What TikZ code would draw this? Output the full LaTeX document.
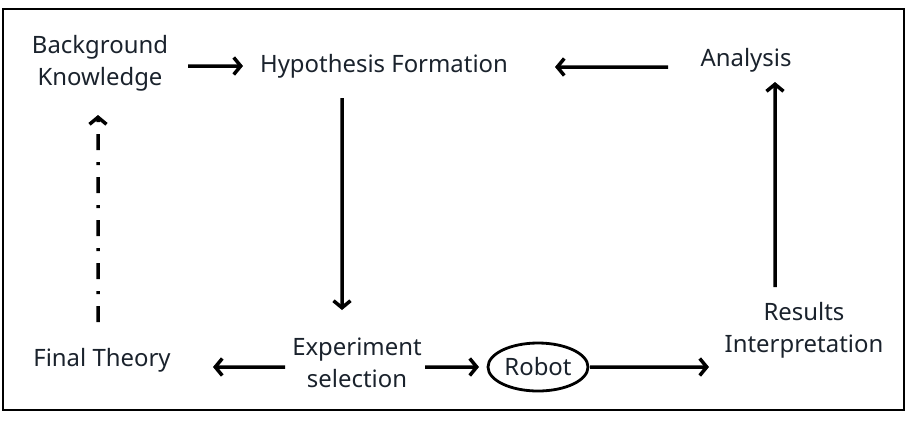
\documentclass[tikz,border=0pt]{standalone}
\usepackage{fontspec}
\setmainfont{Noto Sans}
\usetikzlibrary{arrows.meta,shapes.geometric}
\definecolor{txt}{HTML}{1A222C}
\begin{document}
\begin{tikzpicture}[x=1bp,y=-1bp,
  lbl/.style={font=\fontsize{24}{32}\selectfont, text=txt, align=center, inner sep=0},
  arr/.style={line width=3.5bp, -{Straight Barb[length=7bp,width=17bp,line width=3.5bp]}},
  dashdot/.style={arr, dash pattern=on 16bp off 12bp on 3bp off 12bp},
  oval/.style={lbl, draw, ellipse, line width=2.8bp, minimum width=100bp, minimum height=48bp}]
\useasboundingbox (0,0) rectangle (915,430);
\draw[line width=2bp] (3,9) rectangle (904,410);
\node[lbl] (bk) at (100,63) {Background\\Knowledge};
\node[lbl] (hf) at (384,66) {Hypothesis Formation};
\node[lbl] (an) at (746,60) {Analysis};
\node[lbl] (ft) at (102,360) {Final Theory};
\node[lbl] (es) at (357,363) {Experiment\\selection};
\node[oval] (rb) at (538,367) {Robot};
\node[lbl] (ri) at (804,330) {Results\\Interpretation};
\draw[arr] ([xshift=88bp,yshift=-3bp]bk.center) -- ([xshift=-141bp]hf.center);
\draw[arr] ([xshift=-78bp,yshift=-7bp]an.center) -- ([xshift=171bp,yshift=-1bp]hf.center);
\draw[arr] ([xshift=-42bp,yshift=-32bp]hf.center) -- ([xshift=-15bp,yshift=53bp]es.center);
\draw[dashdot] ([xshift=-4bp,yshift=38bp]ft.center) -- ([xshift=-2bp,yshift=-52bp]bk.center);
\draw[arr] ([xshift=-72bp,yshift=-4bp]es.center) -- ([xshift=111bp,yshift=-7bp]ft.center);
\draw[arr] ([xshift=68bp,yshift=-4bp]es.center) -- ([xshift=-59bp]rb.center);
\draw[arr] ([xshift=52bp]rb.center) -- ([xshift=-95bp,yshift=-37bp]ri.center);
\draw[arr] ([xshift=-29bp,yshift=43bp]ri.center) -- ([xshift=29bp,yshift=-22bp]an.center);
\end{tikzpicture}
\end{document}
